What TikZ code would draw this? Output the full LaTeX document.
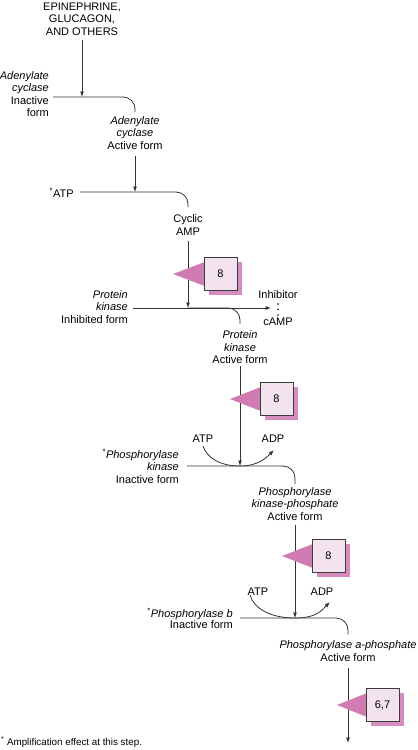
\documentclass[tikz,border=0pt]{standalone}
\usepackage{fontspec}
\setmainfont{Liberation Sans}
\usetikzlibrary{arrows.meta,calc}
\definecolor{lncol}{HTML}{333333}
\definecolor{tricol}{HTML}{D07CB2}
\definecolor{shcol}{HTML}{D78CBF}
\definecolor{boxfill}{HTML}{F3E3EF}
\definecolor{boxdraw}{HTML}{3C3C3C}
\newcommand\fsmain{\fontsize{11bp}{12.5bp}\selectfont}
\newcommand\fsmainb{\fontsize{11bp}{11.5bp}\selectfont}
\newcommand\fsnote{\fontsize{9.8bp}{11bp}\selectfont}
\newcommand\mybadge[5]{%
  \fill[tricol] (#2,#4) -- ({#3+6},{#4-14}) -- ({#3+6},{#4+14}) -- cycle;
  \fill[shcol] ({#3+4.5},{#4-12}) rectangle ({#3+37.5},{#4+21});
  \node[badgebox] (#1) at ({#3+16.5},{#4}) {#5};
}
\begin{document}
\begin{tikzpicture}[x=1bp,y=-1bp,
  txt/.style={inner sep=0pt, font=\fsmain, align=center},
  rtxt/.style={txt, align=right, anchor=east},
  conn/.style={draw=lncol, line width=0.8bp},
  arr/.style={conn, -{Latex[length=5.5bp,width=4bp]}},
  badgebox/.style={draw=boxdraw, line width=0.8bp, fill=boxfill, minimum width=33bp, minimum height=33bp, inner sep=0pt, font=\fsmain}]
\useasboundingbox (0,0) rectangle (417,750);
% text nodes
\node[txt] (title) at (82,19) {EPINEPHRINE,\\GLUCAGON,\\AND OTHERS};
\node[rtxt] (adin) at (49,94) {\textit{Adenylate}\\\textit{cyclase}\\Inactive\\form};
\node[txt] (adact) at (135,133) {\textit{Adenylate}\\\textit{cyclase}\\Active form};
\node[rtxt] (atp0) at (74,193) {\textsuperscript{*}ATP};
\node[txt] (cyc) at (188,225) {Cyclic\\AMP};
\node[rtxt] (pkin) at (128,307) {\textit{Protein}\\\textit{kinase}\\Inhibited form};
\node[txt] (inh) at (278,295) {Inhibitor};
\node[txt] (camp) at (278,322) {cAMP};
\node[txt] (pka) at (240,347.5) {\textit{Protein}\\\textit{kinase}\\Active form};
\node[txt] (atp1) at (203,439) {ATP};
\node[txt] (adp1) at (273,439) {ADP};
\node[rtxt] (pkin2) at (179,466) {\textsuperscript{*}\textit{Phosphorylase}\\\textit{kinase}\\Inactive form};
\node[txt] (pkp) at (295,504) {\textit{Phosphorylase}\\\textit{kinase-phosphate}\\Active form};
\node[txt] (atp2) at (258,592) {ATP};
\node[txt] (adp2) at (322,592) {ADP};
\node[rtxt, font=\fsmainb] (phb) at (233,618.5) {\textsuperscript{*}\textit{Phosphorylase b}\\Inactive form};
\node[txt] (pa) at (348,651) {\textit{Phosphorylase a-phosphate}\\Active form};
\node[txt, anchor=west, font=\fsnote] (note) at (1,742) {\textsuperscript{*} Amplification effect at this step.};
% junctions
\coordinate (j1) at (82,97);
\coordinate (j2) at (135,192);
\coordinate (j3) at (188,308);
\coordinate (j4) at (240,466);
\coordinate (j5) at (295,618);
\coordinate (inhend) at (271,308);
\coordinate (finalend) at (348,743);
% connectors
\draw[arr, shorten <=4.5bp] (title.south) -- (j1);
\draw[conn, rounded corners=12bp, shorten >=4.5bp] ($(adin.east |- j1)+(4,0)$) -- (j1) -| (adact.north);
\draw[arr, shorten <=6bp] (adact.south) -- (j2);
\draw[conn, rounded corners=12bp, shorten >=7.5bp] ($(atp0.east |- j2)+(6,0)$) -- (j2) -| (cyc.north);
\draw[arr, shorten <=6bp] (cyc.south) -- (j3);
\draw[arr] ($(pkin.east |- j3)+(5,0)$) -- (inhend);
\draw[conn, rounded corners=12bp, shorten >=7bp] (j3) -| (pka.north);
\fill[black] (278,304) circle (0.9bp) (278,309.5) circle (0.9bp) (278,315) circle (0.9bp);
\draw[arr, shorten <=2bp] (pka.south) -- (j4);
\draw[conn] ($(atp1.south)+(0,3)$) .. controls +(4,12) and +(-20,0) .. (j4);
\draw[arr] (j4) .. controls +(18,0) and +(-8,8) .. ($(adp1.south)+(1,7)$);
\draw[conn, rounded corners=12bp, shorten >=3.5bp] ($(pkin2.east |- j4)+(8,0)$) -- (j4) -| (pkp.north);
\draw[arr, shorten <=4.5bp] (pkp.south) -- (j5);
\draw[conn] ($(atp2.south)+(-8,-1)$) .. controls +(4,14) and +(-24,0) .. (j5);
\draw[arr] (j5) .. controls +(22,0) and +(-8,8) .. ($(adp2.south)+(8,6)$);
\draw[conn, rounded corners=12bp, shorten >=6bp] ($(phb.east |- j5)+(7,0)$) -- (j5) -| (pa.north);
\draw[arr, shorten <=7bp] (pa.south) -- (finalend);
% badges
\mybadge{b1}{173}{204}{274}{8}
\mybadge{b2}{230}{260}{399}{8}
\mybadge{b3}{282}{312}{556}{8}
\mybadge{b4}{337}{366}{705}{6,7}
\end{tikzpicture}
\end{document}
